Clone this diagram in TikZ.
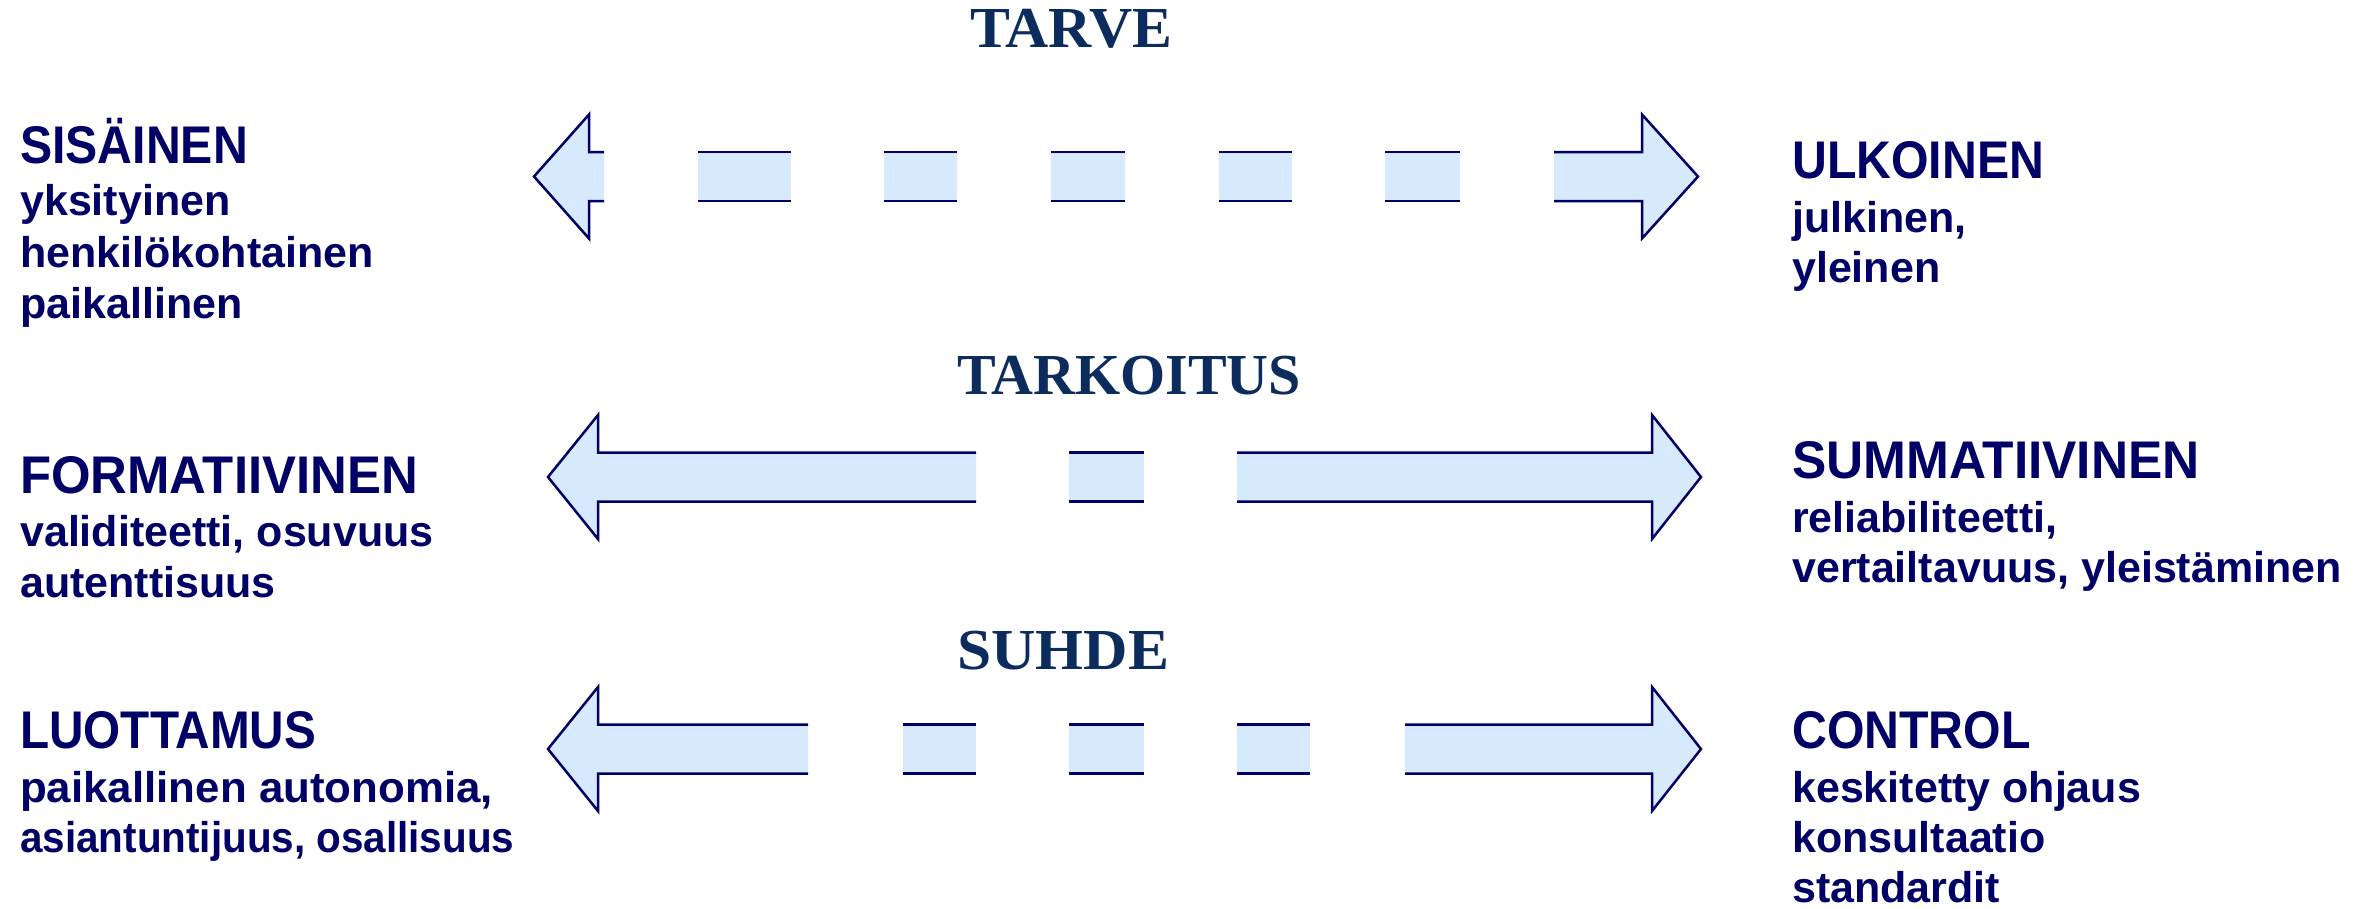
\documentclass[tikz,border=0pt]{standalone}
\usepackage{fontspec}
\usepackage{graphicx}
\setmainfont{Liberation Serif}
\newfontfamily\labfont{Liberation Sans}
\definecolor{labnavy}{HTML}{000066}
\definecolor{titlenavy}{HTML}{0B2C5C}
\definecolor{arrowblue}{HTML}{D7E9FD}
\newcommand{\rsLeftArrow}[4]{%
  \fill[arrowfillst] (#3,#4-24.5) -- (#2,#4-24.5) -- (#2,#4-62) -- (#1,#4) -- (#2,#4+62) -- (#2,#4+24.5) -- (#3,#4+24.5) -- cycle;
  \draw[arrowedgest] (#3,#4-24.5) -- (#2,#4-24.5) -- (#2,#4-62) -- (#1,#4) -- (#2,#4+62) -- (#2,#4+24.5) -- (#3,#4+24.5);}
\newcommand{\rsRightArrow}[4]{%
  \fill[arrowfillst] (#3,#4-24.5) -- (#2,#4-24.5) -- (#2,#4-62) -- (#1,#4) -- (#2,#4+62) -- (#2,#4+24.5) -- (#3,#4+24.5) -- cycle;
  \draw[arrowedgest] (#3,#4-24.5) -- (#2,#4-24.5) -- (#2,#4-62) -- (#1,#4) -- (#2,#4+62) -- (#2,#4+24.5) -- (#3,#4+24.5);}
\newcommand{\rsDash}[3]{%
  \fill[arrowfillst] (#1,#3-24.5) rectangle (#2,#3+24.5);
  \draw[arrowedgest] (#1,#3-24.5) -- (#2,#3-24.5);
  \draw[arrowedgest] (#1,#3+24.5) -- (#2,#3+24.5);}
\begin{document}
\begin{tikzpicture}[x=1pt,y=-1pt,
  arrowfillst/.style={fill=arrowblue},
  arrowedgest/.style={draw=labnavy,line width=2.5pt,line join=miter},
  titlest/.style={anchor=base west,inner sep=0pt,text=titlenavy,font=\bfseries\fontsize{58}{62}\selectfont},
  headst/.style={anchor=base west,inner sep=0pt,text=labnavy,font=\labfont\bfseries\fontsize{53}{60}\selectfont},
  subst/.style={anchor=base west,inner sep=0pt,text=labnavy,font=\labfont\bfseries\fontsize{43}{50}\selectfont}]
\useasboundingbox[fill=white] (0,0) rectangle (2361,908);

% titles
\node[titlest] (tarve) at (970,47) {\scalebox{1.03}[1]{TARVE}};
\node[titlest] (tarkoitus) at (957,394) {TARKOITUS};
\node[titlest] (suhde) at (957,669) {\scalebox{1.06}[1]{SUHDE}};

% row 1 arrow (TARVE)
\rsLeftArrow{534}{589}{604}{176.5}
\rsDash{698}{791}{176.5}
\rsDash{884}{957}{176.5}
\rsDash{1051}{1125}{176.5}
\rsDash{1219}{1292}{176.5}
\rsDash{1385}{1460}{176.5}
\rsRightArrow{1698}{1642}{1554}{176.5}

% row 2 arrow (TARKOITUS)
\rsLeftArrow{548}{598}{976}{477}
\rsDash{1069}{1144}{477}
\rsRightArrow{1701}{1652}{1237}{477}

% row 3 arrow (SUHDE)
\rsLeftArrow{548}{598}{808}{749}
\rsDash{903}{976}{749}
\rsDash{1069}{1144}{749}
\rsDash{1237}{1310}{749}
\rsRightArrow{1701}{1652}{1405}{749}

% left texts
\node[headst] (sisainen) at (20,163) {\scalebox{0.91}[1]{SISÄINEN}};
\node[subst] (l1a) at (20,215) {yksityinen};
\node[subst] (l1b) at (20,267) {henkilökohtainen};
\node[subst] (l1c) at (20,318) {paikallinen};

\node[headst] (formatiivinen) at (20,493) {\scalebox{0.96}[1]{FORMATIIVINEN}};
\node[subst] (l2a) at (20,546) {validiteetti, osuvuus};
\node[subst] (l2b) at (20,597) {autenttisuus};

\node[headst] (luottamus) at (20,748) {\scalebox{0.9}[1]{LUOTTAMUS}};
\node[subst] (l3a) at (20,802) {\scalebox{1.02}[1]{paikallinen autonomia,}};
\node[subst] (l3b) at (20,852) {\scalebox{0.94}[1]{asiantuntijuus, osallisuus}};

% right texts
\node[headst] (ulkoinen) at (1792,178) {\scalebox{0.91}[1]{ULKOINEN}};
\node[subst] (r1a) at (1792,232) {julkinen,};
\node[subst] (r1b) at (1792,282) {yleinen};

\node[headst] (summatiivinen) at (1792,478) {\scalebox{0.97}[1]{SUMMATIIVINEN}};
\node[subst] (r2a) at (1792,532) {reliabiliteetti,};
\node[subst] (r2b) at (1792,582) {vertailtavuus, yleistäminen};

\node[headst] (control) at (1792,748) {\scalebox{0.91}[1]{CONTROL}};
\node[subst] (r3a) at (1792,802) {keskitetty ohjaus};
\node[subst] (r3b) at (1792,852) {konsultaatio};
\node[subst] (r3c) at (1792,902) {standardit};
\end{tikzpicture}
\end{document}
